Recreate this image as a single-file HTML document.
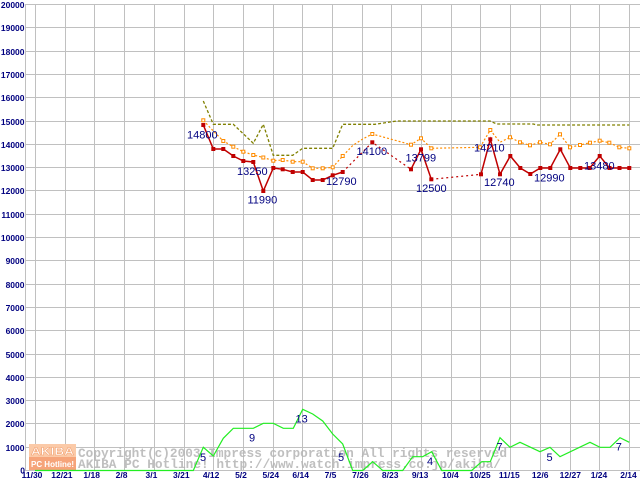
<!DOCTYPE html>
<html><head><meta charset="utf-8"><style>
html,body{margin:0;padding:0;background:#fff;}
svg{display:block;}
</style></head><body>
<svg width="640" height="480" viewBox="0 0 640 480" xmlns="http://www.w3.org/2000/svg">
<rect x="0" y="0" width="640" height="480" fill="#fff"/>
<g stroke="#c0c0c0" stroke-width="1" shape-rendering="crispEdges">
<line x1="25.5" y1="4" x2="25.5" y2="471"/>
<line x1="35.5" y1="4" x2="35.5" y2="470"/><line x1="65.5" y1="4" x2="65.5" y2="470"/><line x1="94.5" y1="4" x2="94.5" y2="470"/><line x1="124.5" y1="4" x2="124.5" y2="470"/><line x1="154.5" y1="4" x2="154.5" y2="470"/><line x1="184.5" y1="4" x2="184.5" y2="470"/><line x1="213.5" y1="4" x2="213.5" y2="470"/><line x1="243.5" y1="4" x2="243.5" y2="470"/><line x1="273.5" y1="4" x2="273.5" y2="470"/><line x1="302.5" y1="4" x2="302.5" y2="470"/><line x1="332.5" y1="4" x2="332.5" y2="470"/><line x1="362.5" y1="4" x2="362.5" y2="470"/><line x1="391.5" y1="4" x2="391.5" y2="470"/><line x1="421.5" y1="4" x2="421.5" y2="470"/><line x1="451.5" y1="4" x2="451.5" y2="470"/><line x1="480.5" y1="4" x2="480.5" y2="470"/><line x1="510.5" y1="4" x2="510.5" y2="470"/><line x1="540.5" y1="4" x2="540.5" y2="470"/><line x1="570.5" y1="4" x2="570.5" y2="470"/><line x1="599.5" y1="4" x2="599.5" y2="470"/><line x1="629.5" y1="4" x2="629.5" y2="470"/>
<line x1="25" y1="470.5" x2="640" y2="470.5"/><line x1="25" y1="447.5" x2="640" y2="447.5"/><line x1="25" y1="423.5" x2="640" y2="423.5"/><line x1="25" y1="400.5" x2="640" y2="400.5"/><line x1="25" y1="377.5" x2="640" y2="377.5"/><line x1="25" y1="354.5" x2="640" y2="354.5"/><line x1="25" y1="330.5" x2="640" y2="330.5"/><line x1="25" y1="307.5" x2="640" y2="307.5"/><line x1="25" y1="284.5" x2="640" y2="284.5"/><line x1="25" y1="260.5" x2="640" y2="260.5"/><line x1="25" y1="237.5" x2="640" y2="237.5"/><line x1="25" y1="214.5" x2="640" y2="214.5"/><line x1="25" y1="190.5" x2="640" y2="190.5"/><line x1="25" y1="167.5" x2="640" y2="167.5"/><line x1="25" y1="144.5" x2="640" y2="144.5"/><line x1="25" y1="121.5" x2="640" y2="121.5"/><line x1="25" y1="97.5" x2="640" y2="97.5"/><line x1="25" y1="74.5" x2="640" y2="74.5"/><line x1="25" y1="51.5" x2="640" y2="51.5"/><line x1="25" y1="27.5" x2="640" y2="27.5"/><line x1="25" y1="4.5" x2="640" y2="4.5"/>
</g>
<g font-family="Liberation Sans, sans-serif" font-weight="bold" font-size="8.5" fill="#000080" text-anchor="end">
<text x="24.5" y="8">20000</text><text x="24.5" y="31">19000</text><text x="24.5" y="55">18000</text><text x="24.5" y="78">17000</text><text x="24.5" y="101">16000</text><text x="24.5" y="125">15000</text><text x="24.5" y="148">14000</text><text x="24.5" y="171">13000</text><text x="24.5" y="194">12000</text><text x="24.5" y="218">11000</text><text x="24.5" y="241">10000</text><text x="24.5" y="264">9000</text><text x="24.5" y="288">8000</text><text x="24.5" y="311">7000</text><text x="24.5" y="334">6000</text><text x="24.5" y="358">5000</text><text x="24.5" y="381">4000</text><text x="24.5" y="404">3000</text><text x="24.5" y="427">2000</text><text x="24.5" y="451">1000</text><text x="25" y="473.5">0</text>
</g>
<!-- watermark -->
<g>
<rect x="29" y="444" width="47" height="13" fill="#fbcaa8"/>
<rect x="29" y="457" width="47" height="13" fill="#f6a47a"/>
<text x="31" y="455" font-family="Liberation Sans, sans-serif" font-weight="bold" font-size="11" fill="#fff" stroke="#f3a070" stroke-width="0.5" textLength="43" lengthAdjust="spacingAndGlyphs">AKIBA</text>
<text x="31" y="467" font-family="Liberation Sans, sans-serif" font-weight="bold" font-size="8" fill="#fff" textLength="43" lengthAdjust="spacingAndGlyphs">PC Hotline!</text>
<g font-family="Liberation Mono, monospace" font-weight="bold" font-size="12.5" fill="#b4b4b4" opacity="0.85">
<text x="78" y="457" textLength="429" lengthAdjust="spacingAndGlyphs">Copyright(c)2003 Impress corporation All rights reserved</text>
<text x="78" y="468" textLength="423" lengthAdjust="spacingAndGlyphs">AKIBA PC Hotline! http://www.watch.impress.co.jp/akiba/</text>
</g>
</g>
<!-- olive dashed -->
<polyline fill="none" stroke="#808000" stroke-width="1.3" stroke-dasharray="3,2" points="203.3,101 213.3,124.3 233.3,124.3 253.3,143.3 263.3,124.3 273.3,155.3 292.7,155.3 302.7,148.3 332.7,148.3 342.7,124.3 375,124.3 396.7,121 490,121 496.7,124 533.3,124 536.7,125 629.3,125"/>
<!-- orange dotted -->
<polyline fill="none" stroke="#ff8c00" stroke-width="1.2" stroke-dasharray="2,2" points="203.3,120.3 213.3,131 223.3,141 233.3,146.7 243.3,151.7 253.3,155 263.3,157.5 273.3,160.7 282.7,160 292.7,161.7 302.7,161.7 312.7,168.3 322.7,168.3 332.7,167.3 342.7,156 352.7,145.5 362.7,139 372.3,134 411,144.7 421,138.3 431.3,148.3 480,147.3 490.3,130 500,142.3 510,137.3 520,142.3 530,145.3 540,142.3 550,144.3 560,134.3 570,147.3 580,145 590,142.7 599.7,140.7 609.3,142.7 619.3,147.3 629.3,148.3"/>
<g fill="#fff" stroke="#ff8c00" stroke-width="1">
<rect x="201.8" y="118.8" width="3" height="3"/><rect x="221.8" y="139.5" width="3" height="3"/><rect x="231.8" y="145.2" width="3" height="3"/><rect x="241.8" y="150.2" width="3" height="3"/><rect x="251.8" y="153.5" width="3" height="3"/><rect x="261.8" y="156" width="3" height="3"/><rect x="271.8" y="159.2" width="3" height="3"/><rect x="281.2" y="158.5" width="3" height="3"/><rect x="291.2" y="160.2" width="3" height="3"/><rect x="301.2" y="160.2" width="3" height="3"/><rect x="311.2" y="166.8" width="3" height="3"/><rect x="321.2" y="166.8" width="3" height="3"/><rect x="331.2" y="165.8" width="3" height="3"/><rect x="341.2" y="154.5" width="3" height="3"/><rect x="370.8" y="132.5" width="3" height="3"/><rect x="409.5" y="143.2" width="3" height="3"/><rect x="419.5" y="136.8" width="3" height="3"/><rect x="429.8" y="146.8" width="3" height="3"/><rect x="478.5" y="145.8" width="3" height="3"/><rect x="488.8" y="128.5" width="3" height="3"/><rect x="508.5" y="135.8" width="3" height="3"/><rect x="518.5" y="140.8" width="3" height="3"/><rect x="528.5" y="143.8" width="3" height="3"/><rect x="538.5" y="140.8" width="3" height="3"/><rect x="548.5" y="142.8" width="3" height="3"/><rect x="558.5" y="132.8" width="3" height="3"/><rect x="568.5" y="145.8" width="3" height="3"/><rect x="578.5" y="143.5" width="3" height="3"/><rect x="588.5" y="141.2" width="3" height="3"/><rect x="598.2" y="139.2" width="3" height="3"/><rect x="607.8" y="141.2" width="3" height="3"/><rect x="617.8" y="145.8" width="3" height="3"/><rect x="627.8" y="146.8" width="3" height="3"/>
</g>
<!-- red -->
<g fill="none" stroke="#c00000" stroke-width="1.5">
<polyline points="203.3,125 213.3,149 223.3,149 233.3,156 243.3,161 253.3,162 263.3,191 273.3,168 282.7,169.3 292.7,172 302.7,172 312.7,180 322.7,180 332.7,175.3 342.7,172"/>
<polyline stroke-dasharray="2,3" stroke-width="1.2" points="342.7,172 372.3,142.3 411,169.3"/>
<polyline points="411,169.3 421,149.3 431.3,179.3"/>
<polyline stroke-dasharray="2,3" stroke-width="1.2" points="431.3,179.3 481,174.3"/>
<polyline points="481,174.3 490.3,139.3 500,174.3 510.3,156 520.3,168 530.3,174 540.3,168 550.3,168 560.3,149.3 570.3,168 580.3,168 589.7,168 599.7,156 609.5,168 619.5,168 629.3,168"/>
</g>
<g fill="#c00000">
<rect x="201.3" y="123" width="4" height="4"/><rect x="211.3" y="147" width="4" height="4"/><rect x="221.3" y="147" width="4" height="4"/><rect x="231.3" y="154" width="4" height="4"/><rect x="241.3" y="159" width="4" height="4"/><rect x="251.3" y="160" width="4" height="4"/><rect x="261.3" y="189" width="4" height="4"/><rect x="271.3" y="166" width="4" height="4"/><rect x="280.7" y="167.3" width="4" height="4"/><rect x="290.7" y="170" width="4" height="4"/><rect x="300.7" y="170" width="4" height="4"/><rect x="310.7" y="178" width="4" height="4"/><rect x="320.7" y="178" width="4" height="4"/><rect x="330.7" y="173.3" width="4" height="4"/><rect x="340.7" y="170" width="4" height="4"/><rect x="370.3" y="140.3" width="4" height="4"/><rect x="409" y="167.3" width="4" height="4"/><rect x="419" y="147.3" width="4" height="4"/><rect x="429.3" y="177.3" width="4" height="4"/><rect x="479" y="172.3" width="4" height="4"/><rect x="488.3" y="137.3" width="4" height="4"/><rect x="498" y="172.3" width="4" height="4"/><rect x="508.3" y="154" width="4" height="4"/><rect x="518.3" y="166" width="4" height="4"/><rect x="528.3" y="172" width="4" height="4"/><rect x="538.3" y="166" width="4" height="4"/><rect x="548.3" y="166" width="4" height="4"/><rect x="558.3" y="147.3" width="4" height="4"/><rect x="568.3" y="166" width="4" height="4"/><rect x="578.3" y="166" width="4" height="4"/><rect x="587.7" y="166" width="4" height="4"/><rect x="597.7" y="154" width="4" height="4"/><rect x="607.5" y="166" width="4" height="4"/><rect x="617.5" y="166" width="4" height="4"/><rect x="627.3" y="166" width="4" height="4"/>
</g>
<!-- green count line -->
<polyline fill="none" stroke="#22ee22" stroke-width="1.2" points="35,470.5 193.3,470.5 203.3,447.3 213.3,456 223.3,438.3 233.3,428.3 253.3,428.3 263.3,423.3 273.3,423.3 283.3,428.3 293.3,428.3 302.7,409.3 312.7,414 322.7,421 332.7,434 342.7,444 352.7,470.5 362.7,470.5 372.7,461.7 382.7,470.5 402.7,470.5 412.7,456.7 422.7,456.7 431.7,451.7 441.7,470.5 471.7,470.5 481.7,461.7 490.3,461.7 500,437.7 510,447.3 520,442.3 540,451.7 550,447.3 560,456.7 590,442.3 600,447.3 610,447.3 620,437.7 629.3,442.3"/>
<!-- data labels -->
<g font-family="Liberation Sans, sans-serif" font-size="11" fill="#000080">
<text x="187" y="138.5">14800</text>
<text x="237" y="175">13250</text>
<text x="247.5" y="203.5">11990</text>
<text x="326" y="185">12790</text>
<text x="356.5" y="155">14100</text>
<text x="405.5" y="161.7">13799</text>
<text x="416" y="192">12500</text>
<text x="474" y="151.7">14210</text>
<text x="484" y="186">12740</text>
<text x="534" y="181.7">12990</text>
<text x="584" y="169.3">13480</text>
<text x="200" y="461">5</text>
<text x="249" y="441.7">9</text>
<text x="295.5" y="422.7">13</text>
<text x="338" y="461">5</text>
<text x="427" y="465">4</text>
<text x="496.5" y="450.7">7</text>
<text x="546.5" y="461">5</text>
<text x="615.8" y="450.7">7</text>
</g>
<!-- x labels -->
<g font-family="Liberation Sans, sans-serif" font-weight="bold" font-size="8.5" fill="#000080" text-anchor="middle">
<text x="32" y="478">11/30</text><text x="61.9" y="478">12/21</text><text x="91.7" y="478">1/18</text><text x="121.6" y="478">2/8</text><text x="151.4" y="478">3/1</text><text x="181.3" y="478">3/21</text><text x="211.1" y="478">4/12</text><text x="241" y="478">5/2</text><text x="270.8" y="478">5/24</text><text x="300.7" y="478">6/14</text><text x="330.5" y="478">7/5</text><text x="360.4" y="478">7/26</text><text x="390.2" y="478">8/23</text><text x="420.1" y="478">9/13</text><text x="450.4" y="478">10/4</text><text x="480" y="478">10/25</text><text x="509.3" y="478">11/15</text><text x="540.2" y="478">12/6</text><text x="570.3" y="478">12/27</text><text x="599" y="478">1/24</text><text x="628.5" y="478">2/14</text>
</g>
</svg>
</body></html>
